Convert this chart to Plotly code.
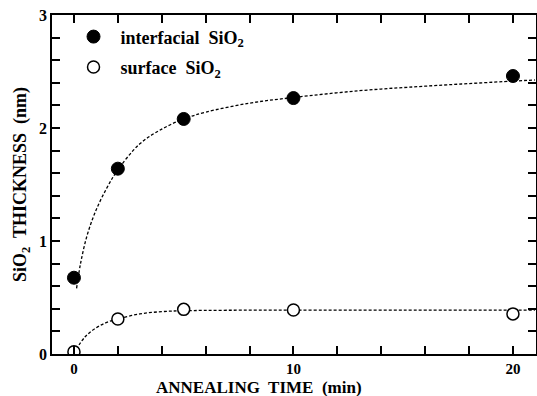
import plotly.graph_objects as go

# Measured data (annealing time in min, thickness in nm)
time_min = [0, 2, 5, 10, 20]
interfacial = [0.675, 1.64, 2.08, 2.265, 2.46]
surface = [0.02, 0.31, 0.395, 0.39, 0.355]

# Fitted guide curves
fit_int_t = [0.12, 0.3, 0.6, 1.0, 1.5, 2, 3, 4, 5, 6, 8, 10, 13, 16, 20, 21]
fit_int_y = [0.58, 0.80, 1.05, 1.27, 1.47, 1.63, 1.86, 1.99, 2.08, 2.14, 2.22, 2.27, 2.33, 2.37, 2.415, 2.425]
fit_surf_t = [0.1, 0.5, 1.0, 1.5, 2, 3, 4, 5, 7, 10, 15, 21]
fit_surf_y = [0.04, 0.15, 0.23, 0.28, 0.31, 0.355, 0.375, 0.383, 0.387, 0.388, 0.388, 0.388]

# Tick positions and labels (blank labels = minor ticks)
x_tick_vals = [0, 2, 4, 6, 8, 10, 12, 14, 16, 18, 20]
x_tick_text = ["0", " ", " ", " ", " ", "10", " ", " ", " ", " ", "20"]
y_tick_vals = [0, 0.2, 0.4, 0.6, 0.8, 1, 1.2, 1.4, 1.6, 1.8, 2, 2.2, 2.4, 2.6, 2.8, 3]
y_tick_text = ["0", " ", " ", " ", " ", "1", " ", " ", " ", " ", "2", " ", " ", " ", " ", "3"]

FONT = "Liberation Serif"

fig = go.Figure()
fig.add_trace(go.Scatter(x=fit_int_t, y=fit_int_y, mode="lines", line_shape="spline",
                         line=dict(color="black", width=1.3, dash="3px,2px"), showlegend=False,
                         hoverinfo="skip"))
fig.add_trace(go.Scatter(x=fit_surf_t, y=fit_surf_y, mode="lines", line_shape="spline",
                         line=dict(color="black", width=1.3, dash="3px,2px"), showlegend=False,
                         hoverinfo="skip"))
fig.add_trace(go.Scatter(x=time_min, y=interfacial, mode="markers", name="<b>interfacial  SiO<sub>2</sub></b>",
                         legendgroup="a",
                         marker=dict(symbol="circle", size=13, color="black", line=dict(color="black", width=1))))
fig.add_trace(go.Scatter(x=time_min, y=surface, mode="markers", name="<b>surface  SiO<sub>2</sub></b>",
                         legendgroup="b",
                         marker=dict(symbol="circle", size=12, color="white", line=dict(color="black", width=1.5))))

fig.update_layout(
    template="simple_white",
    width=537, height=396,
    margin=dict(l=52, r=1, t=15, b=42, autoexpand=False),
    plot_bgcolor="white", paper_bgcolor="white",
    font=dict(family=FONT, size=16, color="black"),
    legend=dict(x=0.03, y=0.99, xanchor="left", yanchor="top", bgcolor="rgba(0,0,0,0)",
                font=dict(family=FONT, size=18, color="black"),
                tracegroupgap=4, itemwidth=44),
)
fig.update_xaxes(range=[-1, 21.05], tickmode="array", tickvals=x_tick_vals, ticktext=x_tick_text,
                 showline=True, linecolor="black", linewidth=1.5, mirror="ticks",
                 ticks="inside", ticklen=8, tickwidth=2, tickcolor="#000000",
                 showgrid=False, zeroline=False, automargin=False,
                 tickfont=dict(family=FONT, size=15, color="black", weight="bold"))
fig.update_yaxes(range=[0, 3], tickmode="array", tickvals=y_tick_vals, ticktext=y_tick_text,
                 showline=True, linecolor="black", linewidth=1.5, mirror="ticks",
                 ticks="inside", ticklen=8, tickwidth=2, tickcolor="#000000",
                 showgrid=False, zeroline=False, automargin=False,
                 tickfont=dict(family=FONT, size=16, color="black", weight="bold"),
                 title=dict(text="<b>SiO<sub>2</sub>  THICKNESS  (nm)</b>", standoff=8,
                            font=dict(family=FONT, size=18, color="black")))

fig.add_annotation(text="<b>ANNEALING  TIME  (min)</b>", xref="paper", yref="paper",
                   x=0.427, y=-0.098, xanchor="center", yanchor="middle", showarrow=False,
                   font=dict(family=FONT, size=17, color="black"))

fig.write_html("out.html", config={"displayModeBar": False},
               post_script="document.body.style.margin='0px';")
